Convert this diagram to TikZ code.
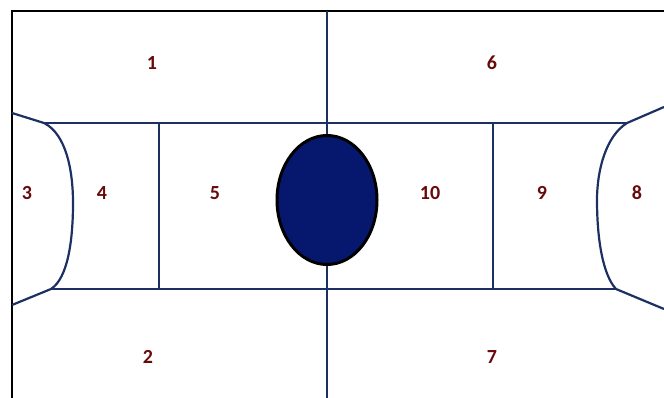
\documentclass[tikz,border=0pt]{standalone}
\usepackage{fontspec}
\usetikzlibrary{shapes.geometric}
\setmainfont{Carlito}
\definecolor{lineblue}{RGB}{28,48,98}
\definecolor{ballblue}{RGB}{6,24,110}
\definecolor{labred}{RGB}{105,10,10}
\begin{document}
\begin{tikzpicture}[x=1pt,y=-1pt,
  court/.style={draw=lineblue,line width=2.2pt},
  frame/.style={draw=black,line width=2.8pt},
  zone/.style={text=labred,font=\bfseries\fontsize{20}{20}\selectfont,inner sep=0pt}]
\useasboundingbox (0,0) rectangle (664,398);
% frame
\draw[frame] (12,398) -- (12,11) -- (664,11);
% center line
\coordinate (ctop) at (327,11);
\coordinate (cbot) at (327,398);
\draw[court] (ctop) -- (cbot);
% long lines
\coordinate (tl) at (44,123);
\coordinate (tr) at (627,123);
\coordinate (bl) at (51,289);
\coordinate (br) at (616,289);
\draw[court] (tl) -- (tr);
\draw[court] (bl) -- (br);
% vertical dividers
\draw[court] (159,123) -- (159,289);
\draw[court] (493,123) -- (493,289);
% left arc
\coordinate (ls) at (12,113);
\coordinate (le) at (12,305);
\draw[court,line join=round] (ls) -- (tl) .. controls (66,134) and (73,170) .. (73,203)
  .. controls (73,240) and (68,278) .. (bl) -- (le);
% right arc
\coordinate (rs) at (664,107);
\coordinate (re) at (664,309);
\draw[court,line join=round] (rs) -- (tr) .. controls (606,136) and (597,170) .. (597,200)
  .. controls (597,240) and (603,275) .. (br) -- (re);
% ball
\node[draw=black,line width=3pt,fill=ballblue,ellipse,minimum width=100pt,minimum height=129pt,inner sep=0pt] (ball) at (327,200) {};
% labels
\node[zone] (z1) at (152,63) {1};
\node[zone] (z6) at (492,63) {6};
\node[zone] (z3) at (27,193) {3};
\node[zone] (z4) at (102,193) {4};
\node[zone] (z5) at (215,193) {5};
\node[zone] (z10) at (430,193) {10};
\node[zone] (z9) at (542,193) {9};
\node[zone] (z8) at (637,193) {8};
\node[zone] (z2) at (148,357) {2};
\node[zone] (z7) at (492,357) {7};
\end{tikzpicture}
\end{document}
